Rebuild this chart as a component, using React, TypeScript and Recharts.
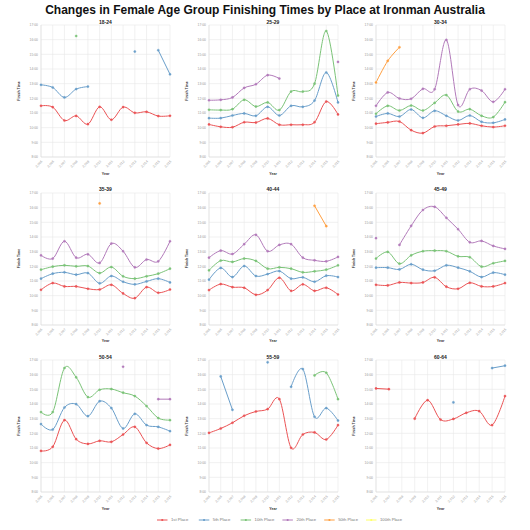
import React from 'react';
import { LineChart, Line, XAxis, YAxis, CartesianGrid } from 'recharts';

const years = [2005, 2006, 2007, 2008, 2009, 2010, 2011, 2012, 2013, 2014, 2015, 2016];
const years6064 = [2006, 2007, 2008, 2009, 2010, 2011, 2012, 2013, 2014, 2015, 2016];
const hourTicks = [8, 9, 10, 11, 12, 13, 14, 15, 16, 17];
const placeKeys = ['p1', 'p5', 'p10', 'p20', 'p50', 'p100'];
const placeNames = ['1st Place', '5th Place', '10th Place', '20th Place', '50th Place', '100th Place'];
const placeColors = ['#eb5355', '#699eca', '#7ac377', '#b27aba', '#ff9f40', '#ffff66'];

const g1824_p1 = [11.49, 11.4, 10.49, 10.8, 10.24, 11.42, 10.54, 11.4, 11.01, 11.08, 10.79, 10.81];
const g1824_p5 = [12.92, 12.74, 12.06, 12.63, 12.8, null, null, null, 15.19, null, 15.28, 13.64];
const g1824_p10 = [null, null, null, 16.25, null, null, null, null, null, null, null, null];

const g2529_p1 = [10.22, 10.06, 10.03, 10.37, 10.35, 10.63, 10.2, 10.2, 10.2, 10.37, 11.78, 10.9];
const g2529_p5 = [10.65, 10.65, 10.83, 10.97, 10.81, 11.42, 10.83, 11.49, 11.42, 11.85, 13.76, 11.72];
const g2529_p10 = [11.22, 11.2, 11.26, 11.9, 11.44, 11.72, 11.2, 12.46, 12.46, 13.0, 16.59, 12.19];
const g2529_p20 = [11.87, 11.9, 12.06, 12.71, 12.96, 13.58, 13.35, null, null, null, null, 14.48];

const g3034_p1 = [10.27, 10.36, 10.42, 9.83, 9.63, 10.08, 10.13, 10.22, 10.29, 10.13, 10.04, 10.13];
const g3034_p5 = [10.76, 10.97, 10.76, 11.24, 10.67, 11.15, 10.81, 10.49, 10.83, 10.4, 10.33, 10.56];
const g3034_p10 = [10.95, 11.49, 11.17, 11.51, 11.17, 11.69, 12.22, 11.1, 11.26, 10.81, 10.72, 11.74];
const g3034_p20 = [11.49, 12.4, 11.99, 11.97, 12.65, 12.62, 15.98, 11.54, 12.62, 12.53, 11.76, 12.62];
const g3034_p50 = [13.08, 14.55, 15.48, null, null, null, null, null, null, null, null, null];

const g3539_p1 = [10.4, 10.86, 10.63, 10.63, 10.47, 10.42, 10.74, 10.15, 9.83, 10.58, 10.2, 10.42];
const g3539_p5 = [11.16, 11.5, 11.59, 11.43, 11.54, 10.84, 11.34, 10.95, 10.77, 10.97, 11.16, 10.9];
const g3539_p10 = [11.77, 11.98, 12.07, 12.0, 12.02, 11.54, 11.95, 11.32, 11.16, 11.32, 11.5, 11.84];
const g3539_p20 = [12.75, 12.53, 13.71, 12.59, 12.82, 12.23, 13.55, 13.03, 11.93, 12.46, 12.34, 13.71];
const g3539_p50 = [null, null, null, null, null, 16.29, null, null, null, null, null, null];

const g4044_p1 = [10.38, 10.79, 10.58, 10.54, 10.06, 10.38, 11.22, 10.33, 10.77, 10.33, 10.54, 10.08];
const g4044_p5 = [11.09, 11.89, 11.27, 12.02, 11.34, 11.47, 11.68, 11.16, 11.25, 10.95, 11.36, 11.27];
const g4044_p10 = [11.73, 12.39, 12.3, 12.53, 12.37, 11.84, 11.93, 11.84, 11.59, 11.66, 11.77, 12.07];
const g4044_p20 = [12.59, 13.07, 12.84, 13.51, 14.15, 13.03, 13.46, 13.51, 12.59, 12.41, 12.34, 12.64];
const g4044_p50 = [null, null, null, null, null, null, null, null, null, 16.13, 14.74, null];

const g4549_p1 = [10.74, 10.7, 10.9, 10.86, 10.9, 11.25, 10.61, 10.47, 10.88, 10.63, 10.63, 10.86];
const g4549_p5 = [11.91, 11.91, 11.79, 12.14, 11.77, 11.7, 12.07, 11.91, 11.66, 11.27, 11.57, 11.43];
const g4549_p10 = [12.53, 12.98, 12.18, 12.75, 13.03, 13.07, 13.03, 12.68, 12.62, 11.98, 12.21, 12.37];
const g4549_p20 = [13.92, null, 13.46, 14.76, 15.84, 16.06, 15.31, 14.53, 13.64, 13.73, 13.39, 13.19];

const g5054_p1 = [10.8, 11.08, 12.9, 11.6, 11.28, 11.49, 11.42, 11.92, 12.44, 11.35, 10.96, 11.21];
const g5054_p5 = [12.63, 12.26, 13.76, 13.99, 13.17, 14.19, 13.72, 12.33, 13.33, 12.56, 12.44, 12.15];
const g5054_p10 = [13.45, 13.45, 16.45, 15.82, 14.47, 14.97, 15.02, 14.77, 14.54, 13.86, 13.04, 12.9];
const g5054_p20 = [null, null, null, null, null, null, null, 16.54, null, null, 14.33, 14.33];

const g5559_p1 = [12.03, 12.33, 12.72, 13.2, 13.49, 13.65, 14.33, 11.01, 11.92, 12.06, 11.58, 12.56];
const g5559_p5 = [null, 15.88, 13.6, null, null, 16.84, null, 15.17, 16.38, 13.13, 13.72, 12.87];
const g5559_p10 = [null, null, null, null, null, null, null, null, null, 15.95, 16.13, 14.33];

const g6064_p1 = [15.06, 15.01, null, 13.0, 14.26, 12.94, 12.98, 13.4, 13.51, 12.56, 14.54];
const g6064_p5 = [null, null, null, null, null, null, 14.11, null, null, 16.45, 16.61];

const panels: { title: string; years: number[]; series: Record<string, (number | null)[]> }[] = [
  { title: '18-24', years, series: { p1: g1824_p1, p5: g1824_p5, p10: g1824_p10 } },
  { title: '25-29', years, series: { p1: g2529_p1, p5: g2529_p5, p10: g2529_p10, p20: g2529_p20 } },
  { title: '30-34', years, series: { p1: g3034_p1, p5: g3034_p5, p10: g3034_p10, p20: g3034_p20, p50: g3034_p50 } },
  { title: '35-39', years, series: { p1: g3539_p1, p5: g3539_p5, p10: g3539_p10, p20: g3539_p20, p50: g3539_p50 } },
  { title: '40-44', years, series: { p1: g4044_p1, p5: g4044_p5, p10: g4044_p10, p20: g4044_p20, p50: g4044_p50 } },
  { title: '45-49', years, series: { p1: g4549_p1, p5: g4549_p5, p10: g4549_p10, p20: g4549_p20 } },
  { title: '50-54', years, series: { p1: g5054_p1, p5: g5054_p5, p10: g5054_p10, p20: g5054_p20 } },
  { title: '55-59', years, series: { p1: g5559_p1, p5: g5559_p5, p10: g5559_p10 } },
  { title: '60-64', years: years6064, series: { p1: g6064_p1, p5: g6064_p5 } },
];

// Cardinal (tension 0) curve factory, same math as d3's curveCardinal
function cardinalCurve(context: any) {
  let x0 = NaN, x1 = NaN, x2 = NaN, y0 = NaN, y1 = NaN, y2 = NaN, pt = 0;
  const k = 1 / 6;
  const bez = (x: number, y: number) => {
    context.bezierCurveTo(
      x1 + k * (x2 - x0), y1 + k * (y2 - y0),
      x2 + k * (x1 - x), y2 + k * (y1 - y),
      x2, y2
    );
  };
  return {
    areaStart() {},
    areaEnd() {},
    lineStart() {
      x0 = x1 = x2 = y0 = y1 = y2 = NaN;
      pt = 0;
    },
    lineEnd() {
      if (pt === 2) context.lineTo(x2, y2);
      else if (pt === 3) bez(x1, y1);
    },
    point(xv: number, yv: number) {
      const x = +xv, y = +yv;
      if (pt === 0) {
        pt = 1;
        context.moveTo(x, y);
      } else if (pt === 1) {
        pt = 2;
        x1 = x; y1 = y;
      } else {
        pt = 3;
        bez(x, y);
      }
      x0 = x1; x1 = x2; x2 = x;
      y0 = y1; y1 = y2; y2 = y;
    },
  };
}

const fmtYear = (v: number) => v.toLocaleString('en-US');
const fmtHour = (v: number) => `${v}:00`;

const FONT = '"Liberation Sans", Arial, Helvetica, sans-serif';
const COL = 167.5;
const ROW = 167.5;
const PLOT_LEFT = 41;
const PLOT_W = 129;

export default function App() {
  return (
    <div style={{ position: 'absolute', left: 0, top: 0, width: 530, height: 530, background: '#fff', fontFamily: FONT }}>
      {panels.map((p, idx) => {
        const col = idx % 3;
        const row = Math.floor(idx / 3);
        const keys = placeKeys.filter((k) => p.series[k]);
        const data = p.years.map((yr, i) => {
          const r: Record<string, number | null> = { year: yr };
          keys.forEach((k) => {
            const v = p.series[k][i];
            r[k] = v === undefined ? null : v;
          });
          return r;
        });
        return (
          <div key={p.title} style={{ position: 'absolute', left: col * COL, top: row * ROW }}>
            <LineChart width={174} height={175} data={data} margin={{ top: 25, right: 4, bottom: 0, left: 0 }}>
              <CartesianGrid stroke="#e8e8e8" strokeWidth={0.6} />
              <XAxis
                dataKey="year"
                type="number"
                domain={[p.years[0], p.years[p.years.length - 1]]}
                ticks={p.years}
                interval={0}
                tickFormatter={fmtYear}
                height={18}
                angle={-45}
                textAnchor="end"
                tick={{ fontSize: 3.4, fill: '#999', fontFamily: FONT }}
                tickLine={false}
                tickSize={1}
                tickMargin={2}
                axisLine={{ stroke: '#ddd', strokeWidth: 0.6 }}
              />
              <YAxis
                type="number"
                domain={[8, 17]}
                ticks={hourTicks}
                interval={0}
                tickFormatter={fmtHour}
                width={41}
                tick={{ fontSize: 3.4, fill: '#999', fontFamily: FONT }}
                tickLine={false}
                tickSize={1}
                tickMargin={2}
                axisLine={{ stroke: '#ddd', strokeWidth: 0.6 }}
              />
              {keys.map((k) => {
                const c = placeColors[placeKeys.indexOf(k)];
                return (
                  <Line
                    key={k}
                    dataKey={k}
                    type={cardinalCurve as any}
                    stroke={c}
                    strokeWidth={1}
                    dot={{ r: 1.1, fill: c, stroke: c, strokeWidth: 0.4 }}
                    activeDot={false}
                    connectNulls={false}
                    isAnimationActive={false}
                  />
                );
              })}
            </LineChart>
          </div>
        );
      })}
      <svg width={530} height={530} style={{ position: 'absolute', left: 0, top: 0, pointerEvents: 'none' }}>
        <text x={265} y={13.5} textAnchor="middle" fontSize={12} fontWeight="bold" fill="#111" fontFamily={FONT}>
          Changes in Female Age Group Finishing Times by Place at Ironman Australia
        </text>
        {panels.map((p, idx) => {
          const col = idx % 3;
          const row = Math.floor(idx / 3);
          const cx = col * COL + PLOT_LEFT + PLOT_W / 2;
          const top = row * ROW;
          const ly = top + 91;
          const lx = col * COL + 20;
          return (
            <g key={p.title}>
              <text x={cx} y={top + 23.5} textAnchor="middle" fontSize={5} fontWeight="bold" fill="#222" fontFamily={FONT}>
                {p.title}
              </text>
              <text x={cx} y={top + 174.5} textAnchor="middle" fontSize={3.6} fontWeight="bold" fill="#333" fontFamily={FONT}>
                Year
              </text>
              <text
                x={lx}
                y={ly}
                textAnchor="middle"
                fontSize={3.5}
                fontWeight="bold"
                fill="#333"
                fontFamily={FONT}
                transform={`rotate(-90 ${lx} ${ly})`}
              >
                Finish Time
              </text>
            </g>
          );
        })}
        {placeNames.map((name, i) => {
          const x = 157 + i * 41.8;
          const c = placeColors[i];
          return (
            <g key={name}>
              <line x1={x} y1={520} x2={x + 10.5} y2={520} stroke={c} strokeWidth={1} />
              <circle cx={x + 5.25} cy={520} r={1.1} fill={c} />
              <text x={x + 14} y={521.4} fontSize={4.2} fill="#777" fontFamily={FONT}>
                {name}
              </text>
            </g>
          );
        })}
      </svg>
    </div>
  );
}
